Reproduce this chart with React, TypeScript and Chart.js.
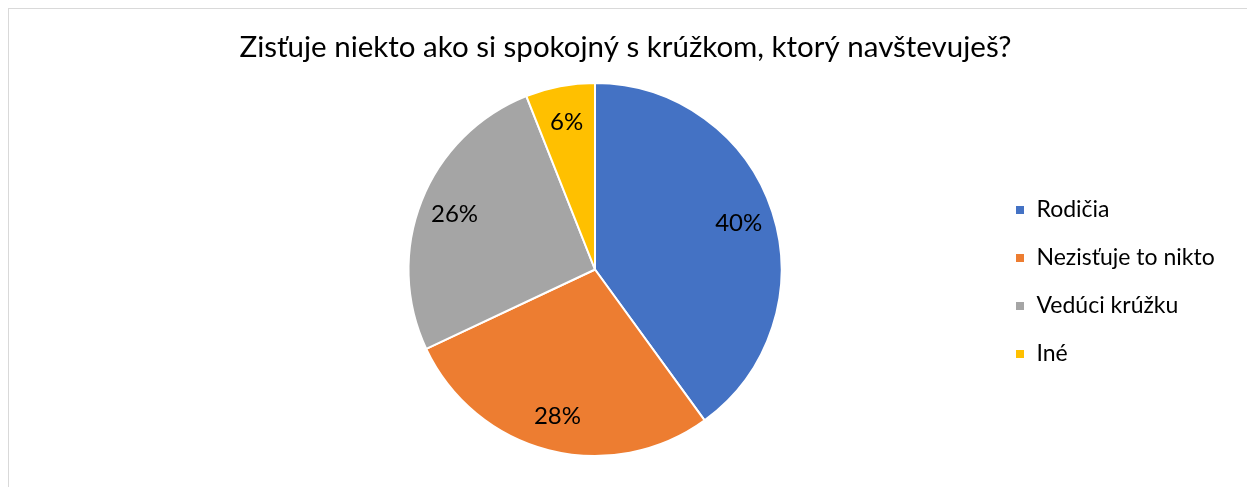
import React, { useEffect, useRef } from 'react';
import { Chart, registerables } from 'chart.js';

Chart.register(...registerables);

const chartTitle = 'Zisťuje niekto ako si spokojný s krúžkom, ktorý navštevuješ?';
const categories = ['Rodičia', 'Nezisťuje to nikto', 'Vedúci krúžku', 'Iné'];
const values = [40, 28, 26, 6];
const colors = ['#4472C4', '#ED7D31', '#A5A5A5', '#FFC000'];

const FONT = 'Lato';
const TITLE_SIZE = 29.5;
const LEGEND_SIZE = 23;
const LABEL_SIZE = 24;
const LEGEND_PAD = 25;
const CANVAS_W = 1238;
const CANVAS_H = 478;
const PIE_CX = 586;
const LEGEND_BOX_X = 1006;

const titlePlugin = {
  id: 'centeredTitle',
  afterDraw(chart: any) {
    const ctx = chart.ctx;
    ctx.save();
    ctx.font = `${TITLE_SIZE}px ${FONT}`;
    ctx.fillStyle = '#000';
    ctx.textAlign = 'center';
    ctx.textBaseline = 'alphabetic';
    ctx.fillText(chartTitle, chart.width / 2 - 2.5, 47.7);
    ctx.restore();
  },
};

const sliceLabels = {
  id: 'sliceLabels',
  afterDatasetsDraw(chart: any) {
    const ctx = chart.ctx;
    const meta = chart.getDatasetMeta(0);
    const ds = chart.data.datasets[0].data as number[];
    const total = ds.reduce((a, b) => a + b, 0);
    ctx.save();
    ctx.font = `${LABEL_SIZE}px ${FONT}`;
    ctx.fillStyle = '#000';
    ctx.textAlign = 'center';
    ctx.textBaseline = 'alphabetic';
    const capHalf = LABEL_SIZE * 0.717 / 2;
    meta.data.forEach((arc: any, i: number) => {
      const { x, y, startAngle, endAngle, outerRadius } = arc.getProps(
        ['x', 'y', 'startAngle', 'endAngle', 'outerRadius'],
        true
      );
      const mid = (startAngle + endAngle) / 2;
      const r = outerRadius * 0.81;
      const pct = Math.round((ds[i] / total) * 100);
      ctx.fillText(`${pct}%`, x + Math.cos(mid) * r, y + Math.sin(mid) * r + capHalf);
    });
    ctx.restore();
  },
};

export default function App() {
  const ref = useRef<HTMLCanvasElement | null>(null);

  useEffect(() => {
    if (!ref.current) return;
    // measure legend text to place the legend box where the reference has it
    const mctx = document.createElement('canvas').getContext('2d')!;
    mctx.font = `${LEGEND_SIZE}px ${FONT}`;
    const maxText = Math.max(...categories.map((c) => mctx.measureText(c).width));
    const boxW = 10;
    const itemW = boxW + LEGEND_SIZE / 2 + maxText;
    const legendW = LEGEND_PAD + itemW + 10;
    const legendLeft = LEGEND_BOX_X - LEGEND_PAD;
    const padRight = Math.max(0, CANVAS_W - legendLeft - legendW);
    const padLeft = 2 * PIE_CX - legendLeft;

    const chart = new Chart(ref.current, {
      type: 'pie',
      data: {
        labels: categories,
        datasets: [
          {
            data: values,
            backgroundColor: colors,
            borderColor: '#ffffff',
            borderWidth: 2,
          },
        ],
      },
      options: {
        responsive: true,
        maintainAspectRatio: false,
        animation: false,
        layout: { padding: { left: padLeft, right: padRight, top: 73, bottom: 30 } },
        plugins: {
          title: { display: false },
          legend: {
            position: 'right',
            title: {
              display: true,
              text: ' ',
              padding: 0,
              font: { family: FONT, size: 20, lineHeight: 1.25 },
            },
            labels: {
              boxWidth: boxW,
              boxHeight: 10,
              padding: LEGEND_PAD,
              color: '#000',
              font: { family: FONT, size: LEGEND_SIZE },
            },
          },
          tooltip: { enabled: false },
        },
      } as any,
      plugins: [sliceLabels, titlePlugin],
    });
    return () => chart.destroy();
  }, []);

  return (
    <div
      style={{
        position: 'fixed',
        left: 8,
        top: 8,
        width: 1239,
        height: 479,
        boxSizing: 'border-box',
        borderTop: '1px solid #d9d9d9',
        borderLeft: '1px solid #d9d9d9',
        background: '#fff',
      }}
    >
      <div style={{ position: 'relative', width: CANVAS_W, height: CANVAS_H }}>
        <canvas ref={ref} />
      </div>
    </div>
  );
}
